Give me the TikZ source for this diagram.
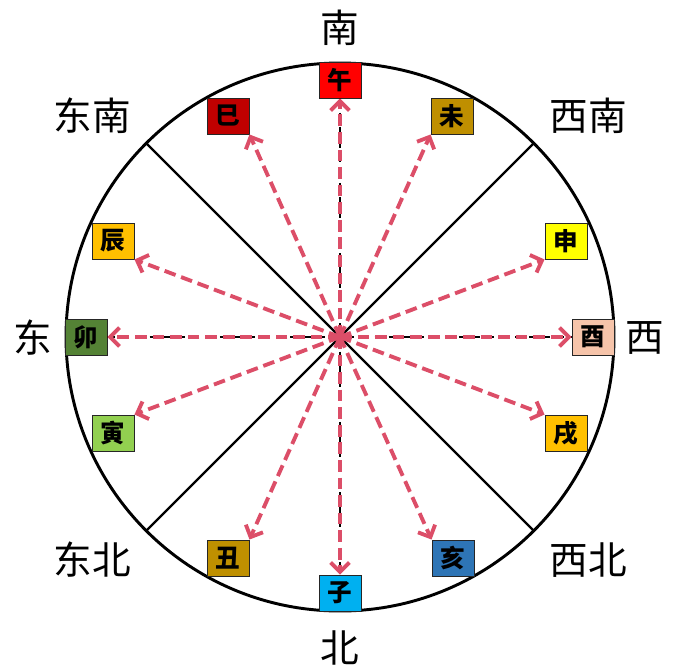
\documentclass[tikz,border=0pt]{standalone}
\usepackage{fontspec}
\usepackage{tikz}
\usetikzlibrary{arrows.meta}
\newfontfamily\cjk{Noto Sans CJK SC}
\definecolor{arrowpink}{RGB}{220,78,104}
\tikzstyle{zhibox}=[rectangle,draw=black!85,line width=0.8pt,
                    minimum width=1.26cm,minimum height=1.08cm,inner sep=0pt,
                    font=\cjk\bfseries\fontsize{21}{21}\selectfont]
\tikzstyle{fangwei}=[font=\cjk\fontsize{33}{33}\selectfont]
\tikzstyle{pinkarrow}=[draw=arrowpink,line width=3.3pt,dash pattern=on 10pt off 5pt,
                       -{Straight Barb[length=8pt,width=16pt]}]
\tikzstyle{axisline}=[draw=black,line width=2pt,dash pattern=on 6pt off 6pt]

\begin{document}
\begin{tikzpicture}[x=0.03cm,y=-0.03cm]
    \useasboundingbox (0,0) rectangle (685,669);
    \coordinate (centre) at (340,337);

    % circle and sector lines
    \draw [line width=2.5pt] (centre) circle (274);
    \draw [line width=2pt] (centre) ++(135:274) -- ++(-45:548);
    \draw [line width=2pt] (centre) ++(45:274) -- ++(-135:548);

    % twelve branches
    \node [zhibox,fill={rgb,255:red,255;green,0;blue,0}]     (wu)   at (340,80)  {午};
    \node [zhibox,fill={rgb,255:red,192;green,0;blue,0}]     (si)   at (228,116) {巳};
    \node [zhibox,fill={rgb,255:red,191;green,143;blue,0}]   (wei)  at (452,116) {未};
    \node [zhibox,fill={rgb,255:red,255;green,192;blue,0}]   (chen) at (113,241) {辰};
    \node [zhibox,fill={rgb,255:red,255;green,255;blue,0}]   (shen) at (566,241) {申};
    \node [zhibox,fill={rgb,255:red,84;green,130;blue,53}]   (mao)  at (86,337)  {卯};
    \node [zhibox,fill={rgb,255:red,246;green,196;blue,170}] (you)  at (593,337) {酉};
    \node [zhibox,fill={rgb,255:red,146;green,208;blue,80}]  (yin)  at (113,433) {寅};
    \node [zhibox,fill={rgb,255:red,255;green,192;blue,0}]   (xu)   at (566,433) {戌};
    \node [zhibox,fill={rgb,255:red,191;green,144;blue,0}]   (chou) at (228,558) {丑};
    \node [zhibox,fill={rgb,255:red,46;green,117;blue,182}]  (hai)  at (453,558) {亥};
    \node [zhibox,fill={rgb,255:red,0;green,176;blue,240}]   (zi)   at (340,593) {子};

    % directions
    \node [fangwei] (nan)     at (340,28)  {南};
    \node [fangwei] (dongnan) at (92,116)  {东南};
    \node [fangwei] (xinan)   at (588,116) {西南};
    \node [fangwei] (dong)    at (33,338)  {东};
    \node [fangwei] (xi)      at (645,338) {西};
    \node [fangwei] (dongbei) at (92,560)  {东北};
    \node [fangwei] (xibei)   at (588,560) {西北};
    \node [fangwei] (bei)     at (340,648) {北};

    % axes
    \draw [axisline] (wu.south) -- (zi.north);
    \draw [axisline] (mao.east) -- (you.west);

    % arrows
    \draw [pinkarrow] (centre) -- (wu);
    \draw [pinkarrow] (centre) -- (zi);
    \draw [pinkarrow] (centre) -- (mao);
    \draw [pinkarrow] (centre) -- (you);
    \draw [pinkarrow] (centre) -- (si.south east);
    \draw [pinkarrow] (centre) -- (wei.south west);
    \draw [pinkarrow] (centre) -- (chen.south east);
    \draw [pinkarrow] (centre) -- (shen.south west);
    \draw [pinkarrow] (centre) -- (yin.north east);
    \draw [pinkarrow] (centre) -- (xu.north west);
    \draw [pinkarrow] (centre) -- (chou.north east);
    \draw [pinkarrow] (centre) -- (hai.north west);
\end{tikzpicture}
\end{document}
